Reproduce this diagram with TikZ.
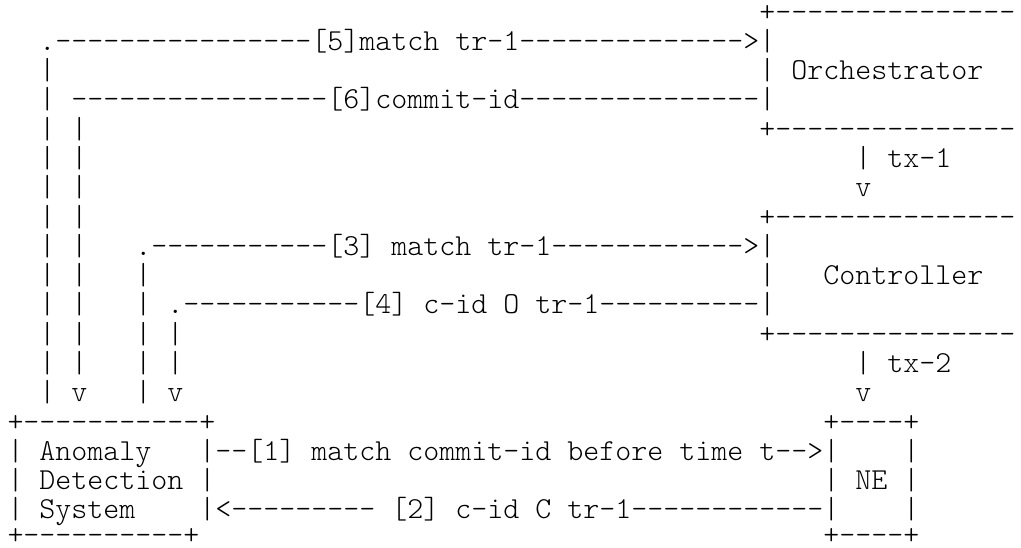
\documentclass[tikz,border=0pt]{standalone}
\usepackage{fontspec}
\newfontfamily\asciifont{lmmonolt10-regular.otf}
\newlength\cw
\setlength\cw{12pt}
\newcommand\gap[1]{\hspace*{#1\cw}}
\ExplSyntaxOn
\cs_new:Npn \reptok #1#2 { \prg_replicate:nn {#1} {#2} }
\ExplSyntaxOff
\tikzset{
  asciirow/.style={anchor=base west, inner sep=0pt, outer sep=0pt, text=black,
    font=\asciifont\fontsize{22.857pt}{22pt}\selectfont}
}
\begin{document}
\begin{tikzpicture}
\useasboundingbox (0,0) rectangle (765.75pt,-410.25pt);
\fill[white] (0,0) rectangle (765.75pt,-410.25pt);
\clip (0,0) rectangle (765.75pt,-410.25pt);
\node[asciirow] (r0)  at (5.625pt,-16.2pt) {\gap{47}+\reptok{15}{-}};
\node[asciirow] (r1)  at (5.625pt,-37.650pt) {\gap{2}.\reptok{16}{-}[5]match\gap{1}tr-1\reptok{14}{-}>|};
\node[asciirow] (r2)  at (5.625pt,-59.625pt) {\gap{2}|\gap{44}|\gap{1}Orchestrator};
\node[asciirow] (r3)  at (5.625pt,-81.600pt) {\gap{2}|\gap{1}\reptok{16}{-}[6]commit-id\reptok{15}{-}|};
\node[asciirow] (r4)  at (5.625pt,-103.575pt) {\gap{2}|\gap{1}|\gap{42}+\reptok{15}{-}};
\node[asciirow] (r5)  at (5.625pt,-125.550pt) {\gap{2}|\gap{1}|\gap{48}|\gap{1}tx-1};
\node[asciirow] (r6)  at (5.625pt,-147.525pt) {\gap{2}|\gap{1}|\gap{48}v};
\node[asciirow] (r7)  at (5.625pt,-169.500pt) {\gap{2}|\gap{1}|\gap{42}+\reptok{15}{-}};
\node[asciirow] (r8)  at (5.625pt,-191.475pt) {\gap{2}|\gap{1}|\gap{3}.\reptok{11}{-}[3]\gap{1}match\gap{1}tr-1\reptok{12}{-}>|};
\node[asciirow] (r9)  at (5.625pt,-213.450pt) {\gap{2}|\gap{1}|\gap{3}|\gap{38}|\gap{3}Controller};
\node[asciirow] (r10) at (5.625pt,-235.425pt) {\gap{2}|\gap{1}|\gap{3}|\gap{1}.\reptok{11}{-}[4]\gap{1}c-id\gap{1}O\gap{1}tr-1\reptok{10}{-}|};
\node[asciirow] (r11) at (5.625pt,-257.400pt) {\gap{2}|\gap{1}|\gap{3}|\gap{1}|\gap{36}+\reptok{15}{-}};
\node[asciirow] (r12) at (5.625pt,-279.375pt) {\gap{2}|\gap{1}|\gap{3}|\gap{1}|\gap{42}|\gap{1}tx-2};
\node[asciirow] (r13) at (5.625pt,-301.350pt) {\gap{2}|\gap{1}v\gap{3}|\gap{1}v\gap{42}v};
\node[asciirow] (r14) at (5.625pt,-323.325pt) {+\reptok{11}{-}+\gap{38}+\reptok{4}{-}+};
\node[asciirow] (r15) at (5.625pt,-345.300pt) {|\gap{1}Anomaly\gap{3}|--[1]\gap{1}match\gap{1}commit-id\gap{1}before\gap{1}time\gap{1}t-->|\gap{4}|};
\node[asciirow] (r16) at (5.625pt,-367.275pt) {|\gap{1}Detection\gap{1}|\gap{38}|\gap{1}NE\gap{1}|};
\node[asciirow] (r17) at (5.625pt,-388.9pt) {|\gap{1}System\gap{4}|<\reptok{9}{-}\gap{1}[2]\gap{1}c-id\gap{1}C\gap{1}tr-1\reptok{12}{-}|\gap{4}|};
\node[asciirow] (r18) at (5.625pt,-408.2pt) {+\reptok{10}{-}+\gap{39}+\reptok{4}{-}+};
\end{tikzpicture}
\end{document}
